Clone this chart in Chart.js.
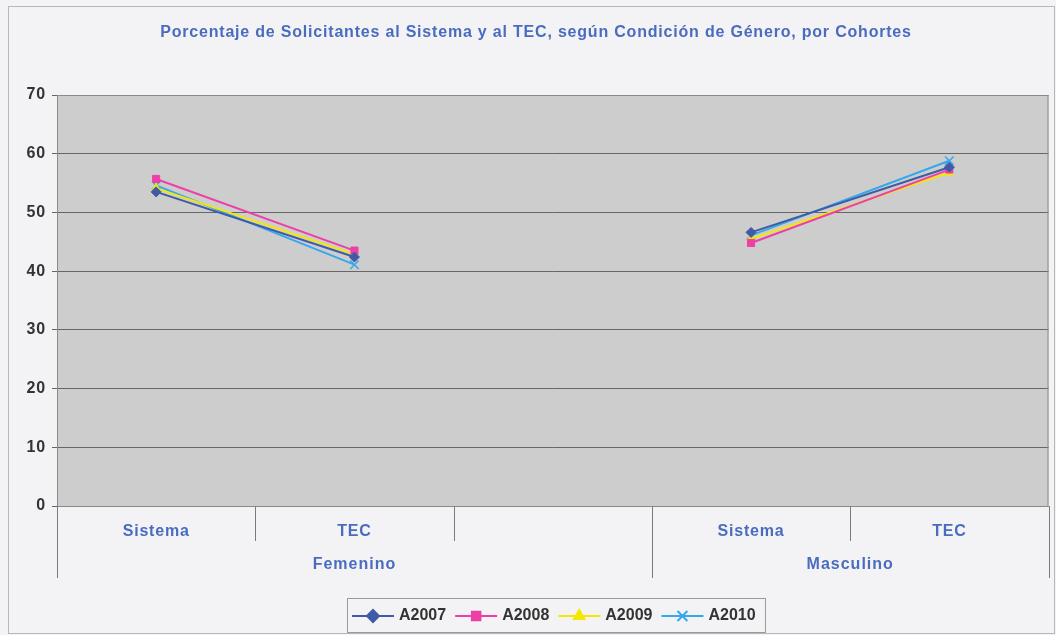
<!DOCTYPE html>
<html>
<head>
<meta charset="utf-8">
<script src="https://cdn.jsdelivr.net/npm/chart.js@4.4.0/dist/chart.umd.min.js"></script>
<style>
  html, body { margin: 0; padding: 0; background: #f3f3f5; }
  #wrap { position: relative; width: 1056px; height: 635px; }
</style>
</head>
<body>
<div id="wrap"><canvas id="chart1" width="1056" height="635"></canvas></div>
<script>
// categories and groups
const categories = ['Sistema', 'TEC', '', 'Sistema', 'TEC'];
const groups = [
    { name: 'Femenino', from: 0, to: 2 },
    { name: 'Masculino', from: 3, to: 4 }
];
const y_ticks = [0, 10, 20, 30, 40, 50, 60, 70];

// series values (percent)
const a2007 = [53.5, 42.4, null, 46.6, 57.7];
const a2008 = [55.7, 43.5, null, 44.8, 57.3];
const a2009 = [54.1, 42.9, null, 45.5, 56.8];
const a2010 = [54.6, 41.1, null, 46.1, 58.8];

const title_text = 'Porcentaje de Solicitantes al Sistema y al TEC, según Condición de Género, por Cohortes';
const blue_text = '#4a6cbf';
const font_family = '"Liberation Sans", Arial, sans-serif';

const series = [
    { label: 'A2007', data: a2007, color: '#3f5aa6', style: 'rectRot', radius: 5 },
    { label: 'A2008', data: a2008, color: '#ee3fa8', style: 'rect', radius: 5 },
    { label: 'A2009', data: a2009, color: '#f5e800', style: 'triangle', radius: 5 },
    { label: 'A2010', data: a2010, color: '#35a8ec', style: 'crossRot', radius: 6 }
];

const chart1_data = {
    labels: categories,
    datasets: series.map(s => ({
        label: s.label,
        data: s.data,
        borderColor: s.color,
        backgroundColor: s.color,
        borderWidth: 2,
        pointStyle: s.style,
        pointRadius: s.radius,
        pointBorderWidth: s.style === 'crossRot' ? 1.5 : 1,
        spanGaps: false,
        tension: 0
    }))
};

// draws plot background, separators, group labels, title and legend
const excel_look = {
    id: 'excel_look',
    beforeDraw(chart) {
        const ctx = chart.ctx;
        const a = chart.chartArea;
        ctx.save();
        ctx.fillStyle = '#f3f3f5';
        ctx.fillRect(0, 0, chart.width, chart.height);
        ctx.strokeStyle = '#b8b8b8';
        ctx.lineWidth = 1;
        ctx.strokeRect(8.5, 6.5, chart.width - 10, chart.height - 8);
        ctx.fillStyle = '#cdcdcd';
        ctx.fillRect(a.left, a.top, a.right - a.left, a.bottom - a.top);
        ctx.restore();
        // wider letters for the axis labels, like the original
        ctx.letterSpacing = '0.8px';
    },
    afterDraw(chart) {
        const ctx = chart.ctx;
        const a = chart.chartArea;
        const xs = chart.scales.x;
        ctx.letterSpacing = '0px';
        ctx.save();
        // plot border
        ctx.strokeStyle = '#8a8a8a';
        ctx.lineWidth = 1;
        ctx.strokeRect(a.left + 0.5, a.top + 0.5, a.right - a.left - 1, a.bottom - a.top);

        // category separators
        const bounds = [a.left];
        for (let i = 0; i < categories.length - 1; i++) {
            bounds.push((xs.getPixelForTick(i) + xs.getPixelForTick(i + 1)) / 2);
        }
        bounds.push(a.right);
        const group_edges = [0, groups[1].from, categories.length];
        ctx.strokeStyle = '#7a7a7a';
        for (let i = 0; i < bounds.length; i++) {
            const long = group_edges.includes(i);
            const x = Math.round(bounds[i]) + 0.5;
            ctx.beginPath();
            ctx.moveTo(x, a.bottom);
            ctx.lineTo(x, a.bottom + (long ? 72 : 35));
            ctx.stroke();
        }

        // group labels
        ctx.fillStyle = blue_text;
        ctx.font = 'bold 16px ' + font_family;
        ctx.letterSpacing = '1px';
        ctx.textAlign = 'center';
        ctx.textBaseline = 'middle';
        groups.forEach(g => {
            const x = (bounds[g.from] + bounds[g.to + 1]) / 2;
            ctx.fillText(g.name, x, a.bottom + 59);
        });

        // title
        ctx.font = 'bold 16px ' + font_family;
        ctx.letterSpacing = '0.8px';
        ctx.fillText(title_text, 536, 33);

        // legend
        const lx = 347, ly = 598, lw = 418, lh = 34;
        ctx.letterSpacing = '0px';
        ctx.fillStyle = '#f3f3f5';
        ctx.fillRect(lx, ly, lw, lh);
        ctx.strokeStyle = '#9a9a9a';
        ctx.strokeRect(lx + 0.5, ly + 0.5, lw, lh);
        ctx.font = 'bold 16px ' + font_family;
        ctx.textAlign = 'left';
        const cy = ly + lh / 2 + 1;
        let x = lx + 5;
        chart.data.datasets.forEach(ds => {
            ctx.strokeStyle = ds.borderColor;
            ctx.lineWidth = 2;
            ctx.beginPath();
            ctx.moveTo(x, cy);
            ctx.lineTo(x + 42, cy);
            ctx.stroke();
            ctx.fillStyle = ds.borderColor;
            Chart.helpers.drawPoint(ctx, {
                pointStyle: ds.pointStyle,
                radius: ds.pointRadius + 1,
                borderWidth: ds.pointBorderWidth,
                rotation: 0
            }, x + 21, cy);
            ctx.fillStyle = '#333333';
            ctx.fillText(ds.label, x + 47, cy);
            x += 47 + ctx.measureText(ds.label).width + 9;
        });
        ctx.restore();
    }
};

const chart1_cfg = {
    type: 'line',
    data: chart1_data,
    options: {
        responsive: false,
        animation: false,
        layout: {
            padding: { top: 95, right: 4, bottom: 0, left: 0 }
        },
        plugins: {
            legend: { display: false },
            title: { display: false },
            tooltip: { enabled: false }
        },
        scales: {
            x: {
                offset: true,
                grid: { display: false },
                border: { display: false },
                ticks: {
                    color: blue_text,
                    font: { family: font_family, size: 16, weight: 'bold' },
                    padding: 8,
                    maxRotation: 0,
                    autoSkip: false
                },
                afterFit(scale) { scale.height = 129; }
            },
            y: {
                min: 0,
                max: 70,
                afterBuildTicks(scale) { scale.ticks = y_ticks.map(v => ({ value: v })); },
                grid: {
                    color: '#666666',
                    lineWidth: 1,
                    tickLength: 5
                },
                border: { color: '#8a8a8a' },
                ticks: {
                    color: '#333333',
                    font: { family: font_family, size: 16, weight: 'bold' },
                    padding: 6
                },
                afterFit(scale) { scale.width = 57; }
            }
        }
    },
    plugins: [excel_look]
};

const chart1_ctx = document.getElementById('chart1').getContext('2d');
let chart1 = new Chart(chart1_ctx, chart1_cfg);
</script>
</body>
</html>
